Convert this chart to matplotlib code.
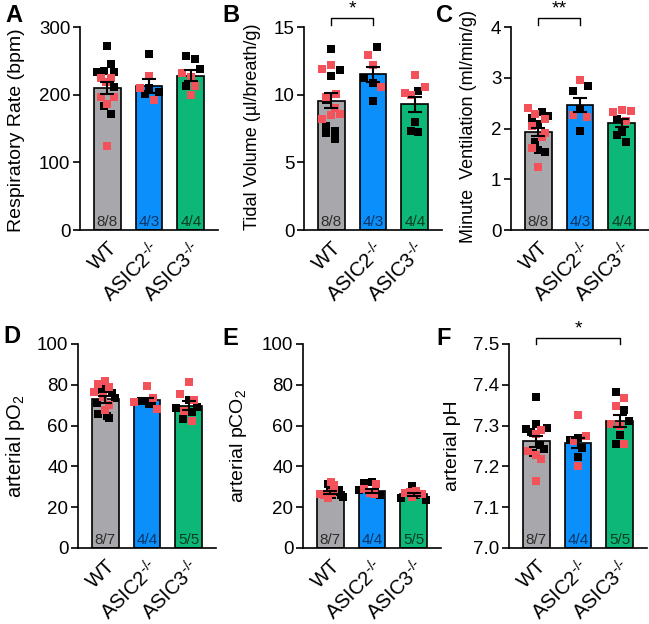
import numpy as np
import matplotlib.pyplot as plt
from matplotlib.transforms import blended_transform_factory

plt.rcParams['font.family'] = ['Liberation Sans', 'DejaVu Sans']
plt.rcParams['mathtext.fontset'] = 'custom'
plt.rcParams['mathtext.rm'] = 'Liberation Sans'
plt.rcParams['mathtext.it'] = 'Liberation Sans:italic'

groups = ["WT", r"ASIC2$^{\text{-/-}}$", r"ASIC3$^{\text{-/-}}$"]
bar_colors = ["#a8a8ac", "#0b8ffa", "#0cb777"]
n_text_colors = ["#2b2b2b", "#0b3562", "#0a3d22"]
red = "#f4525a"

# A - respiratory rate
rr_mean = [210, 213, 228]
rr_sem = [8.5, 10, 8]
rr_n = ["8/8", "4/3", "4/4"]
rr_black = [[272, 246, 233, 235, 234, 211, 183, 171.5], [260, 209.5, 200.5, 203.5], [257, 253, 237.5, 213]]
rr_black_dx = [[0, 0.08, -0.24, -0.08, 0.16, 0.16, -0.08, 0.08], [0, 0, -0.1, 0.23], [-0.12, 0.1, 0.22, -0.12]]
rr_red = [[224, 224, 196.6, 196.6, 186, 124, 219], [228, 209.5, 192], [232.5, 226.6, 212.8, 199.5]]
rr_red_dx = [[-0.16, 0.08, -0.16, 0.16, 0, 0, -0.04], [0, -0.22, 0.12], [-0.22, 0, 0.1, 0]]

# B - tidal volume
tv_mean = [9.55, 11.5, 9.3]
tv_sem = [0.55, 0.55, 0.56]
tv_n = ["8/8", "4/3", "4/4"]
tv_black = [[13.38, 11.83, 11.38, 9.6, 7.71, 7.34, 7.19, 6.73], [13.5, 11.2, 10.9, 9.53], [10.27, 8.0, 7.32, 7.22]]
tv_black_dx = [[0, 0.22, 0, -0.12, -0.12, 0.1, -0.12, 0.1], [0.1, -0.22, 0, 0], [0.08, 0, -0.1, 0.08]]
tv_red = [[12.2, 11.87, 10.05, 9.85, 9.04, 8.5, 8.55, 8.2], [12.93, 12.2, 10.6], [11.46, 10.55, 10.1, 9.98]]
tv_red_dx = [[0, -0.22, 0.12, -0.12, 0.1, 0, 0.22, -0.22], [-0.12, 0, 0.2], [0, 0.24, -0.24, -0.1]]

# C - minute ventilation
mv_mean = [1.93, 2.47, 2.11]
mv_sem = [0.08, 0.14, 0.08]
mv_n = ["8/8", "4/3", "4/4"]
mv_black = [[2.33, 2.24, 2.20, 2.08, 1.73, 1.57, 1.53], [2.84, 2.73, 2.39, 1.95], [2.19, 1.93, 1.88, 1.73]]
mv_black_dx = [[0.08, 0.24, -0.16, 0, -0.08, 0, 0.16], [0.18, -0.16, 0, 0], [-0.11, 0, -0.11, 0.1]]
mv_red = [[2.40, 2.29, 2.19, 2.04, 1.91, 1.83, 1.61, 1.24], [2.95, 2.27, 2.22], [2.32, 2.37, 2.35, 2.14]]
mv_red_dx = [[-0.24, -0.08, 0.16, -0.16, 0.16, 0.08, -0.16, 0], [0, -0.16, 0.16], [-0.22, 0, 0.22, 0.1]]

# D - arterial pO2
po2_mean = [72.9, 72.3, 69.8]
po2_sem = [1.6, 1.0, 2.0]
po2_n = ["8/7", "4/4", "5/5"]
po2_black = [[77.3, 77.8, 75.9, 73.5, 71.0, 65.9, 64.7, 63.5], [72.1, 72.1, 71.6, 70.5], [72.6, 69.3, 68.8, 63.4, 66.8]]
po2_black_dx = [[-0.12, 0, 0.16, 0.23, -0.2, -0.16, 0.05, 0.1], [-0.15, 0.02, 0.12, 0.05], [0, 0.2, -0.3, -0.15, 0.08]]
po2_red = [[80.6, 81.6, 76.5, 78.7, 70.1, 67.6, 74.0], [79.5, 71.6, 73.4, 68.3], [81.4, 75.4, 72.6, 62.2, 67.0]]
po2_red_dx = [[-0.18, 0, -0.27, 0.1, 0.1, 0, -0.05], [0, -0.3, 0.15, 0.25], [0, -0.2, 0.12, 0.08, -0.12]]

# E - arterial pCO2
pco2_mean = [27.1, 27.9, 26.3]
pco2_sem = [0.8, 0.9, 0.8]
pco2_n = ["8/7", "4/4", "5/5"]
pco2_black = [[31.5, 29.8, 27.4, 26.5, 25.8, 25.0, 26.0, 28.2], [31.8, 32.3, 25.8, 28.2], [30.2, 23.3, 24.5, 25.8, 26.6]]
pco2_black_dx = [[-0.05, 0, 0.15, -0.1, 0.25, 0.3, 0.05, 0.2], [-0.2, 0, 0.2, -0.3], [-0.05, 0.3, -0.3, 0.05, 0.2]]
pco2_red = [[32.3, 30.7, 26.6, 25.8, 27.0, 28.8, 24.5], [31.5, 29.0, 26.9, 26.3], [26.9, 27.9, 26.6, 25.0, 27.5]]
pco2_red_dx = [[0.02, 0.1, -0.25, -0.15, 0.05, 0.1, -0.05], [0.1, -0.2, -0.05, 0.05], [-0.2, 0.05, 0.2, -0.05, -0.1]]

# F - arterial pH
ph_mean = [7.261, 7.257, 7.312]
ph_sem = [0.014, 0.013, 0.015]
ph_n = ["8/7", "4/4", "5/5"]
ph_black = [[7.371, 7.303, 7.292, 7.285, 7.293, 7.252, 7.243, 7.232], [7.270, 7.265, 7.246, 7.224], [7.382, 7.338, 7.311, 7.277, 7.255]]
ph_black_dx = [[0, 0, -0.24, -0.12, 0.26, 0.08, 0.18, -0.08], [0, -0.2, 0.1, 0], [-0.1, 0.1, 0.22, 0, -0.1]]
ph_red = [[7.289, 7.279, 7.238, 7.228, 7.218, 7.164], [7.326, 7.275, 7.262, 7.201], [7.368, 7.349, 7.303, 7.300, 7.254]]
ph_red_dx = [[0.12, 0, -0.19, 0, 0.12, 0], [0, 0.2, -0.1, 0], [0.1, -0.1, -0.2, 0, 0.1]]


def panel(ax, mean, sem, n, black, black_dx, red_pts, red_dx, ylim, ticks, ylabel,
          label_size, label_x, label_y=0.5, fmt="{:g}"):
    x = np.arange(3)
    base = ylim[0]
    ax.bar(x, np.array(mean) - base, bottom=base, width=0.64, color=bar_colors,
           edgecolor="black", linewidth=1.2, zorder=1)
    for i in range(3):
        ax.scatter(i + np.array(black_dx[i]), black[i], marker="s", s=28, color="black",
                   linewidths=0, zorder=2, clip_on=False)
        ax.scatter(i + np.array(red_dx[i]), red_pts[i], marker="s", s=28, color=red,
                   linewidths=0, zorder=2, clip_on=False)
    ax.errorbar(x, mean, yerr=sem, fmt="none", ecolor="black", elinewidth=1.5,
                capsize=5, capthick=1.5, zorder=3)
    trans = blended_transform_factory(ax.transData, ax.transAxes)
    for i in range(3):
        ax.text(i, 0.006, n[i], transform=trans, ha="center", va="bottom",
                fontsize=11, color=n_text_colors[i])
    ax.set_xlim(-0.65, 2.65)
    ax.set_ylim(*ylim)
    ax.set_yticks(ticks)
    ax.set_yticklabels([fmt.format(t) for t in ticks])
    ax.set_xticks(x)
    ax.set_xticklabels(groups, rotation=45, ha="right", rotation_mode="anchor")
    ax.tick_params(axis="x", length=0, pad=6, labelsize=14.5)
    ax.tick_params(axis="y", length=5, width=1.2, pad=2, labelsize=13.5)
    ax.spines["top"].set_visible(False)
    ax.spines["right"].set_visible(False)
    ax.spines["left"].set_linewidth(1.2)
    ax.spines["bottom"].set_linewidth(1.2)
    ax.set_ylabel(ylabel, fontsize=label_size)
    ax.yaxis.label.set_va("center")
    ax.yaxis.set_label_coords(-label_x / 138, label_y)


def bracket(ax, x0, x1, y, drop, label):
    ax.plot([x0, x0, x1, x1], [y - drop, y, y, y - drop], color="black", lw=1,
            clip_on=False)
    ax.text((x0 + x1) / 2, y + drop * 0.1, label, ha="center", va="bottom", fontsize=14)


fig = plt.figure(figsize=(6.49, 6.24), dpi=100)
w, h = 0.2126, 0.3253
axA = fig.add_axes([0.1233, 0.6314, w, h])
axB = fig.add_axes([0.4684, 0.6314, w, h])
axC = fig.add_axes([0.7874, 0.6314, w, h])
axD = fig.add_axes([0.1202, 0.1218, w, 0.327])
axE = fig.add_axes([0.4669, 0.1218, w, 0.327])
axF = fig.add_axes([0.7843, 0.1218, w, 0.327])

panel(axA, rr_mean, rr_sem, rr_n, rr_black, rr_black_dx, rr_red, rr_red_dx,
      (0, 300), [0, 100, 200, 300], "Respiratory Rate (bpm)", 14, 64, 0.49)
panel(axB, tv_mean, tv_sem, tv_n, tv_black, tv_black_dx, tv_red, tv_red_dx,
      (0, 15), [0, 5, 10, 15], "Tidal Volume (µl/breath/g)", 13, 51, 0.51)
panel(axC, mv_mean, mv_sem, mv_n, mv_black, mv_black_dx, mv_red, mv_red_dx,
      (0, 4), [0, 1, 2, 3, 4], "Minute  Ventilation (ml/min/g)", 13, 43, 0.51)
panel(axD, po2_mean, po2_sem, po2_n, po2_black, po2_black_dx, po2_red, po2_red_dx,
      (0, 100), [0, 20, 40, 60, 80, 100], "arterial pO$_2$", 14.5, 63)
panel(axE, pco2_mean, pco2_sem, pco2_n, pco2_black, pco2_black_dx, pco2_red, pco2_red_dx,
      (0, 100), [0, 20, 40, 60, 80, 100], "arterial pCO$_2$", 14, 65)
panel(axF, ph_mean, ph_sem, ph_n, ph_black, ph_black_dx, ph_red, ph_red_dx,
      (7.0, 7.5), [7.0, 7.1, 7.2, 7.3, 7.4, 7.5], "arterial pH", 14, 57, fmt="{:.1f}")

bracket(axB, 0, 1, 15.65, 0.5, "*")
bracket(axC, 0, 1, 4.18, 0.15, "**")
bracket(axF, 0, 2, 7.515, 0.015, "*")

for letter, (px, py) in zip("ABCDEF", [(5, 4), (222, 4), (436, 4), (3, 325), (222, 327), (436, 327)]):
    fig.text(px / 649, 1 - py / 624, letter, fontsize=17, fontweight="bold", va="top", ha="left")

fig.savefig("out.png", dpi=100)
